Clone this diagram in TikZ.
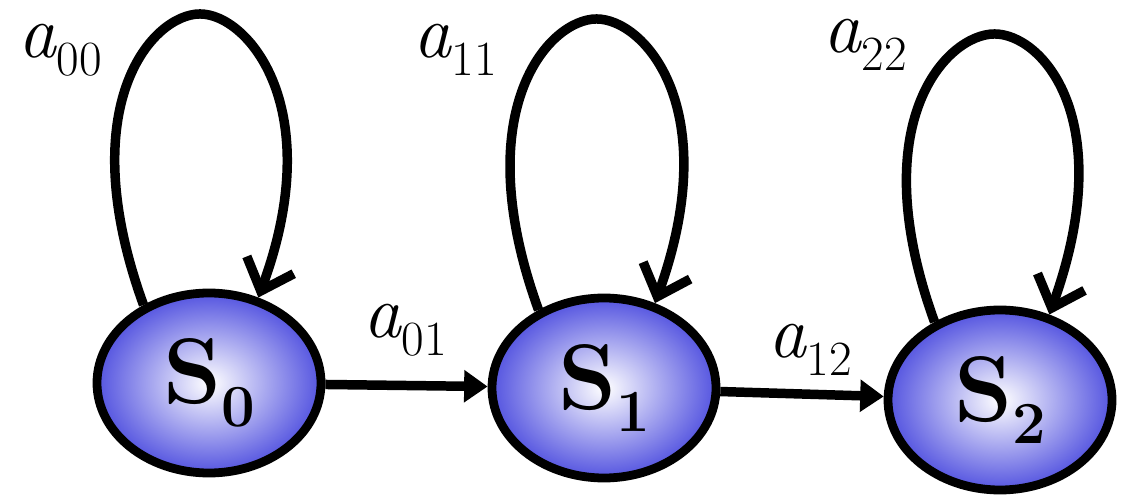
\documentclass[tikz,border=0pt]{standalone}
\usepackage{tikz}
\usetikzlibrary{arrows.meta,shapes.geometric}
\definecolor{StateBlue}{RGB}{84,84,224}
\newcommand{\prob}[1]{\textit{a}\raisebox{-0.24em}{\fontsize{28}{28}\selectfont #1}}
\newcommand{\stname}[1]{\textbf{S\raisebox{-0.24em}{\fontsize{34}{34}\selectfont #1}}}

\begin{document}
\begin{tikzpicture}[
  state/.style={
    ellipse,
    draw=black,
    line width=5pt,
    minimum width=4.48cm,
    minimum height=3.6cm,
    inner color=white,
    outer color=StateBlue,
    font=\fontsize{53}{53}\selectfont
  },
  prob label/.style={font=\fontsize{43}{43}\selectfont,inner sep=0pt},
  arrow/.style={-{Triangle[length=0.47cm,width=0.62cm]},line width=5.4pt},
  selfloop/.style={-{Straight Barb[length=0.55cm,width=1.0cm]},line width=5.4pt}
]
\useasboundingbox (0,0) rectangle (22.44,9.96);
\node[state] (s0) at (4.18,2.30) {\stname{0}};
\node[state] (s1) at (12.08,2.20) {\stname{1}};
\node[state] (s2) at (20.00,1.96) {\stname{2}};
\node[prob label] (l00) at (1.20,8.96) {\prob{00}};
\node[prob label] (l11) at (9.10,8.96) {\prob{11}};
\node[prob label] (l22) at (17.30,9.06) {\prob{22}};
\node[prob label] (l01) at (8.10,3.36) {\prob{01}};
\node[prob label] (l12) at (16.20,2.96) {\prob{12}};
% self loops: up the left side, over the top, down onto the node
\draw[selfloop] (s0.130) .. controls +(-1.45,4.0) and +(-0.95,0) .. +(1.13,5.82)
  .. controls +(0.95,0) and +(1.4,3.8) .. (s0.60);
\draw[selfloop] (s1.130) .. controls +(-1.45,4.0) and +(-0.95,0) .. +(1.16,5.82)
  .. controls +(0.95,0) and +(1.4,3.9) .. (s1.59);
\draw[selfloop] (s2.130) .. controls +(-1.45,4.0) and +(-0.95,0) .. +(1.2,5.76)
  .. controls +(0.95,0) and +(1.4,3.9) .. (s2.60);
\draw[arrow] (s0) -- (s1);
\draw[arrow] (s1) -- (s2);
\end{tikzpicture}
\end{document}
